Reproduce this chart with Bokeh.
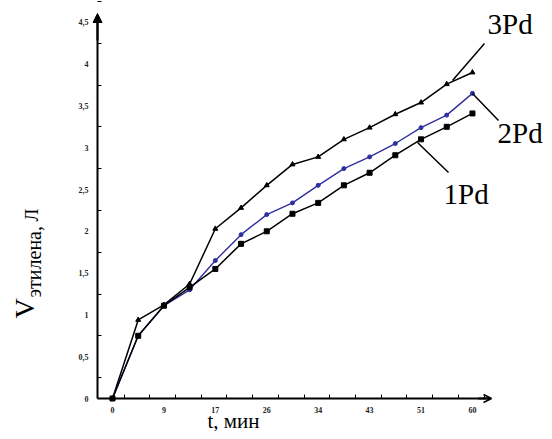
import math
from bokeh.plotting import figure
from bokeh.models import Range1d, FixedTicker, Label, Arrow, NormalHead, OpenHead
from bokeh.embed import file_html
from bokeh.resources import INLINE

# ---- data ----
idx = list(range(15))
x_tick_pos = [0, 2, 4, 6, 8, 10, 12, 14]
x_tick_labels = ["0", "9", "17", "26", "34", "43", "51", "60"]
y_tick_pos = [0, 0.5, 1, 1.5, 2, 2.5, 3, 3.5, 4, 4.5]
y_tick_labels = ["0", "0,5", "1", "1,5", "2", "2,5", "3", "3,5", "4", "4,5"]

pd3 = [0, 0.94, 1.12, 1.37, 2.03, 2.28, 2.55, 2.80, 2.89, 3.10, 3.24, 3.40, 3.54, 3.76, 3.90]
pd2 = [0, 0.75, 1.11, 1.30, 1.65, 1.96, 2.20, 2.34, 2.55, 2.75, 2.89, 3.05, 3.24, 3.39, 3.65]
pd1 = [0, 0.75, 1.11, 1.33, 1.55, 1.85, 2.00, 2.21, 2.34, 2.55, 2.70, 2.91, 3.10, 3.25, 3.41]

# ---- geometry helpers (canvas pixels -> data units) for annotations ----
X0PX, XSTEP, Y0PX, YSTEP = 112.0, 25.71, 398.0, 83.6
def dx(wx):
    return (wx - X0PX) / XSTEP
def dy(wy):
    return (Y0PX - wy) / YSTEP

W, H = 544, 431
SERIF = "Liberation Serif"

p = figure(width=W, height=H, output_backend="svg", toolbar_location=None,
           x_range=Range1d(dx(0), dx(W)), y_range=Range1d(dy(H), dy(0)),
           min_border=0)
p.outline_line_color = None
p.grid.visible = False
p.background_fill_color = "white"
p.border_fill_color = "white"

for ax in (p.xaxis[0], p.yaxis[0]):
    ax.axis_line_width = 2
    ax.axis_line_color = "black"
    ax.major_tick_in = 0
    ax.major_tick_out = 0
    ax.minor_tick_in = 4
    ax.minor_tick_out = 0
    ax.minor_tick_line_color = "black"
    ax.major_label_text_font = SERIF
    ax.major_label_text_font_size = "8px"
    ax.major_label_text_font_style = "bold"
    ax.major_label_text_color = "#222222"

p.xaxis.fixed_location = 0
p.yaxis.fixed_location = dx(97)
p.xaxis.bounds = (dx(97), dx(490))
p.yaxis.bounds = (0, dy(15))
p.xaxis.ticker = FixedTicker(ticks=x_tick_pos, minor_ticks=[i + 0.45 for i in idx])
p.xaxis.major_label_overrides = dict(zip(x_tick_pos, x_tick_labels))
p.xaxis.major_label_standoff = 8
p.yaxis.ticker = FixedTicker(ticks=y_tick_pos, minor_ticks=[v + 0.25 for v in y_tick_pos])
p.yaxis.major_label_overrides = dict(zip(y_tick_pos, y_tick_labels))
p.yaxis.major_label_standoff = 9

# axis arrow heads
p.add_layout(Arrow(x_start=dx(478), y_start=0, x_end=dx(491), y_end=0,
                   line_width=2, end=OpenHead(size=8, line_width=1.5)))
p.add_layout(Arrow(x_start=dx(97), y_start=dy(40), x_end=dx(97), y_end=dy(13),
                   line_width=2, end=NormalHead(size=9, fill_color="black", line_color="black")))

# series
blue = "#2f2fa0"
p.line(idx, pd3, line_color="black", line_width=1.5)
p.scatter(idx, pd3, marker="triangle", size=5, color="black")
p.line(idx, pd2, line_color=blue, line_width=1.4)
p.scatter(idx, pd2, marker="circle", size=4, color=blue)
p.line(idx, pd1, line_color="black", line_width=1.5)
p.scatter(idx, pd1, marker="square", size=5, color="black")

# leader lines
p.segment(x0=[dx(452), dx(472), dx(417)], y0=[dy(80), dy(93), dy(142)],
          x1=[dx(484), dx(498), dx(448)], y1=[dy(43), dy(120), dy(172)],
          line_color="black", line_width=1.5)

def lab(text, wx, wy, size, angle=0.0):
    p.add_layout(Label(x=dx(wx), y=dy(wy), text=text, text_font=SERIF,
                       text_font_size=size, text_color="black", angle=angle,
                       text_align="left", text_baseline="middle"))

lab("3Pd", 487, 23, "29px")
lab("2Pd", 497, 132, "29px")
lab("1Pd", 443, 193, "29px")
lab("t, мин", 207, 420, "21px")
lab("V", 24, 318, "28px", math.pi / 2)
lab("этилена,", 33, 297, "20px", math.pi / 2)
lab("Л", 31, 221, "19px", math.pi / 2)

open("out.html", "w").write(file_html(p, INLINE))
